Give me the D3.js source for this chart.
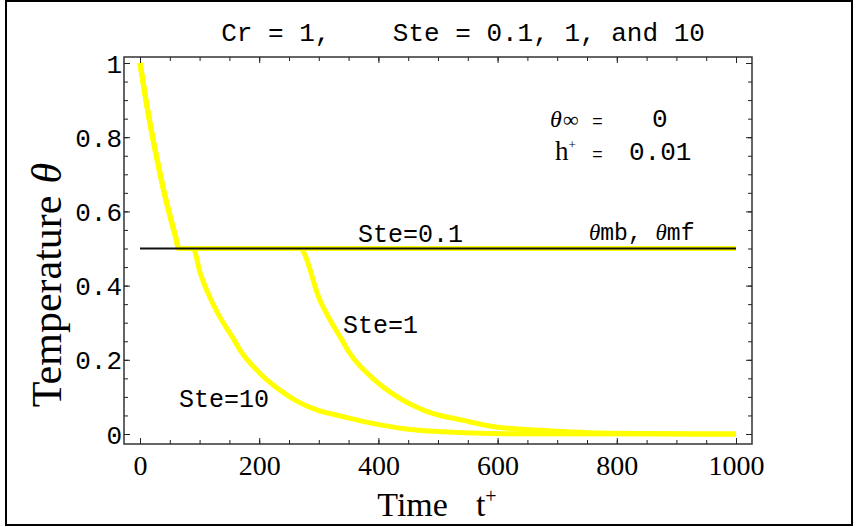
<!DOCTYPE html>
<html>
<head>
<meta charset="utf-8">
<script src="https://cdn.jsdelivr.net/npm/d3@7"></script>
<style>
  body { margin: 0; background: #fff; }
  svg { display: block; }
  .mono { font-family: "Liberation Mono", "DejaVu Sans Mono", monospace; }
  .serif { font-family: "Liberation Serif", "DejaVu Serif", serif; }
</style>
</head>
<body>
<svg width="859" height="527"></svg>
<script>
// shared cooling part, down to the melt temperature
const coolT = [0, 10, 20, 30, 40, 50, 60, 65];
const coolTheta = [1, 0.90, 0.81, 0.73, 0.655, 0.59, 0.53, 0.5];

// Ste = 10 : short plateau, then decay
const ste10T = [89, 101, 117, 134, 156, 168, 201, 225, 247, 264, 302, 322, 386, 450, 507, 610, 1000];
const ste10Theta = [0.5, 0.434, 0.369, 0.315, 0.259, 0.226, 0.164, 0.130, 0.105, 0.088, 0.062, 0.054, 0.030, 0.013, 0.006, 0.001, 0];

// Ste = 1
const ste1T = [268, 302, 339, 354, 392, 430, 481, 545, 597, 674, 789, 1000];
const ste1Theta = [0.5, 0.36, 0.253, 0.213, 0.148, 0.102, 0.061, 0.036, 0.019, 0.010, 0.002, 0];

// Ste = 0.1 stays on the plateau
const ste01T = [1000];
const ste01Theta = [0.5];

// melt line theta_mb, theta_mf
const meltT = [0, 1000];
const meltTheta = [0.5, 0.5];

const xTicks = [0, 200, 400, 600, 800, 1000];
const yTicks = [0, 0.2, 0.4, 0.6, 0.8, 1];
const yTickLabels = ["0", "0.2", "0.4", "0.6", "0.8", "1"];

const svg = d3.select("svg");

const x = d3.scaleLinear().domain([0, 1000]).range([140, 736]);
const y = d3.scaleLinear().domain([0, 1]).range([434, 63]);

// outer border
svg.append("rect")
  .attr("x", 6).attr("y", 1).attr("width", 846).attr("height", 524)
  .attr("fill", "none").attr("stroke", "#000").attr("stroke-width", 2);

const pair = (ts, vs) => ts.map((t, i) => [t, vs[i]]);
const series = [
  pair(coolT, coolTheta).concat(pair(ste01T, ste01Theta)),
  pair(coolT, coolTheta).concat(pair(ste1T, ste1Theta)),
  pair(coolT, coolTheta).concat(pair(ste10T, ste10Theta))
];

const line = d3.line()
  .x(d => x(d[0]))
  .y(d => y(d[1]))
  .curve(d3.curveMonotoneX);

svg.selectAll("path.curve")
  .data(series)
  .enter()
  .append("path")
  .attr("class", "curve")
  .attr("d", line)
  .attr("fill", "none")
  .attr("stroke", "#ffff00")
  .attr("stroke-width", 5)
  .attr("stroke-linejoin", "round");

svg.append("path")
  .attr("d", d3.line().x(d => x(d[0])).y(d => y(d[1]))(pair(meltT, meltTheta)))
  .attr("stroke", "#111")
  .attr("stroke-width", 2)
  .attr("fill", "none");

// frame
svg.append("rect")
  .attr("x", 124).attr("y", 57).attr("width", 628).attr("height", 387)
  .attr("fill", "none").attr("stroke", "#333").attr("stroke-width", 1.5);

function frameAxis(axisFn, scale, vals, size, tr, labels) {
  const g = svg.append("g").attr("transform", tr)
    .call(axisFn(scale).tickValues(vals).tickSize(size).tickFormat(labels ? labels : ""));
  g.select(".domain").remove();
  g.selectAll(".tick line").attr("stroke", "#222");
  return g;
}

const xMinor = x.ticks(20);
const yMinor = y.ticks(20);

// bottom
const gx = frameAxis(d3.axisBottom, x, xTicks, -6, "translate(0,444)", d => d);
frameAxis(d3.axisBottom, x, xMinor, -4, "translate(0,444)");
gx.selectAll("text")
  .attr("class", "serif")
  .attr("font-size", 28)
  .attr("font-family", null)
  .attr("fill", "#000")
  .attr("dy", null)
  .attr("y", 31);
// top
frameAxis(d3.axisTop, x, xTicks, -6, "translate(0,57)");
frameAxis(d3.axisTop, x, xMinor, -4, "translate(0,57)");
// left
const gy = frameAxis(d3.axisLeft, y, yTicks, -6, "translate(124,0)", (d, i) => yTickLabels[i]);
frameAxis(d3.axisLeft, y, yMinor, -4, "translate(124,0)");
gy.selectAll("text")
  .attr("class", "mono")
  .attr("font-family", null)
  .attr("font-size", 26)
  .attr("fill", "#000")
  .attr("x", -2)
  .attr("dy", "0.35em");
// right
frameAxis(d3.axisRight, y, yTicks, -6, "translate(752,0)");
frameAxis(d3.axisRight, y, yMinor, -4, "translate(752,0)");

// title
svg.append("text")
  .attr("class", "mono")
  .attr("x", 463).attr("y", 41)
  .attr("text-anchor", "middle")
  .attr("font-size", 26)
  .attr("xml:space", "preserve")
  .text("Cr = 1,    Ste = 0.1, 1, and 10");

// axis labels
const xl = svg.append("text")
  .attr("class", "serif")
  .attr("x", 437).attr("y", 516)
  .attr("text-anchor", "middle")
  .attr("font-size", 34);
xl.append("tspan").text("Time");
xl.append("tspan").attr("dx", 28).text("t");
xl.append("tspan").attr("font-size", 20).attr("dy", -13).text("+");

const yl = svg.append("text")
  .attr("class", "serif")
  .attr("transform", "translate(61,285) rotate(-90)")
  .attr("text-anchor", "middle")
  .attr("font-size", 42);
yl.append("tspan").text("Temperature");
yl.append("tspan").attr("dx", 12).attr("font-style", "italic").text("θ");

// annotations
function note(xp, yp, txt, size, cls, style) {
  return svg.append("text")
    .attr("class", cls)
    .attr("x", xp).attr("y", yp)
    .attr("font-size", size)
    .attr("font-style", style || null)
    .text(txt);
}
note(550, 127, "θ", 24, "serif", "italic");
note(563, 127, "∞", 22, "serif");
note(592, 127, "=", 18, "mono");
note(652, 127, "0", 26, "mono");
const h = svg.append("text").attr("class", "serif").attr("x", 555).attr("y", 160).attr("font-size", 27);
h.append("tspan").text("h");
h.append("tspan").attr("font-size", 13).attr("dy", -11).text("+");
note(592, 160, "=", 18, "mono");
note(629, 160, "0.01", 26, "mono");

note(358, 242, "Ste=0.1", 25, "mono");
note(343, 333, "Ste=1", 25, "mono");
note(179, 407, "Ste=10", 25, "mono");

const m = svg.append("text").attr("class", "mono").attr("x", 589).attr("y", 240).attr("font-size", 23);
m.append("tspan").attr("class", "serif").attr("font-style", "italic").text("θ");
m.append("tspan").text("mb, ");
m.append("tspan").attr("class", "serif").attr("font-style", "italic").text("θ");
m.append("tspan").text("mf");
</script>
</body>
</html>
